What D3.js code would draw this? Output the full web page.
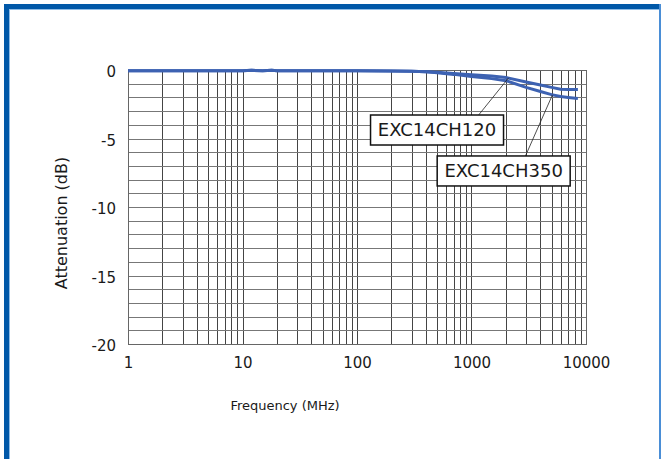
<!DOCTYPE html>
<html>
<head>
<meta charset="utf-8">
<script src="https://cdn.jsdelivr.net/npm/d3@7"></script>
<style>
  body { margin: 0; background: #fff; }
  text { font-family: "DejaVu Sans", Verdana, sans-serif; fill: #1a1a1a; }
</style>
</head>
<body>
<div id="chart"></div>
<script>
// frequency points (MHz) and attenuation (dB)
const freq = [1, 5, 10, 12, 15, 18, 20, 30, 50, 100, 200, 300, 400, 500, 700, 1000, 1500, 2000, 3000, 4000, 5000, 6000, 7000, 8500];
const att120 = [-0.05, -0.05, -0.05, -0.02, -0.06, -0.02, -0.05, -0.05, -0.05, -0.05, -0.07, -0.1, -0.12, -0.17, -0.25, -0.34, -0.44, -0.55, -0.87, -1.1, -1.27, -1.4, -1.42, -1.42];
const att350 = [-0.05, -0.05, -0.05, -0.02, -0.06, -0.02, -0.05, -0.05, -0.05, -0.05, -0.07, -0.1, -0.13, -0.2, -0.32, -0.48, -0.63, -0.78, -1.27, -1.57, -1.8, -1.93, -2.0, -2.08];
const seriesNames = ["EXC14CH120", "EXC14CH350"];
const xTicks = [1, 10, 100, 1000, 10000];
const yTicks = [0, -5, -10, -15, -20];
// label boxes: centre (freq, dB), leader from (freq, dB) to curve point (freq, dB)
const labelPos = [[500, -4.38], [1910, -7.37]];
const leaderFrom = [[1156, -3.28], [2958, -6.28]];
const leaderTo = [[2110, -0.57], [5090, -1.82]];

const W = 661, H = 459;
const svg = d3.select('#chart').append('svg')
  .attr('width', W).attr('height', H);

// frame
svg.append('rect').attr('x', 4).attr('y', 4).attr('width', 5).attr('height', H).attr('fill', '#0058a8');
svg.append('rect').attr('x', 4).attr('y', 4).attr('width', 656).attr('height', 5).attr('fill', '#0058a8');
svg.append('rect').attr('x', 9).attr('y', 9).attr('width', 1).attr('height', H).attr('fill', '#8fbce6');
svg.append('rect').attr('x', 9).attr('y', 9).attr('width', 651).attr('height', 1).attr('fill', '#8fbce6');
svg.append('rect').attr('x', 659).attr('y', 4).attr('width', 2).attr('height', H).attr('fill', '#4a8ed6');

const pLeft = 128, pRight = 586, pTop = 70, pBottom = 344;

const x = d3.scaleLog().domain([1, 10000]).range([pLeft, pRight]);
const y = d3.scaleLinear().domain([-20, 0]).range([pBottom, pTop]);

// grid
const minor = [];
for (let d = 1; d < 10000; d *= 10) {
  for (let k = 1; k <= 9; k++) minor.push(d * k);
}
minor.push(10000);
const grid = svg.append('g').attr('shape-rendering', 'crispEdges');
grid.selectAll('.vg').data(minor).enter().append('line')
  .attr('x1', d => Math.round(x(d)) + 0.5).attr('x2', d => Math.round(x(d)) + 0.5)
  .attr('y1', pTop).attr('y2', pBottom)
  .attr('stroke', '#444').attr('stroke-width', 1);
grid.selectAll('.hg').data(d3.range(0, -21, -1)).enter().append('line')
  .attr('x1', pLeft).attr('x2', pRight)
  .attr('y1', d => Math.round(y(d)) + 0.5).attr('y2', d => Math.round(y(d)) + 0.5)
  .attr('stroke', '#777').attr('stroke-width', 1);
grid.append('rect').attr('x', pLeft + 0.5).attr('y', pTop + 0.5)
  .attr('width', pRight - pLeft).attr('height', pBottom - pTop)
  .attr('fill', 'none').attr('stroke', '#666');

// axes (labels only)
const xAxis = d3.axisBottom(x).tickValues(xTicks).tickSize(0).tickPadding(13).tickFormat(d => String(d));
const gx = svg.append('g').attr('transform', `translate(0,${pBottom})`).call(xAxis);
gx.select('.domain').remove();
gx.selectAll('text').attr('font-size', 15).attr('font-family', '"DejaVu Sans", sans-serif').attr('fill', '#1a1a1a');

const yAxis = d3.axisLeft(y).tickValues(yTicks).tickSize(0).tickPadding(12).tickFormat(d => String(d));
const gy = svg.append('g').attr('transform', `translate(${pLeft},0)`).call(yAxis);
gy.select('.domain').remove();
gy.selectAll('text').attr('font-size', 15).attr('font-family', '"DejaVu Sans", sans-serif').attr('fill', '#1a1a1a').attr('dy', '0.45em');

// titles
svg.append('text')
  .attr('transform', 'translate(61,223) rotate(-90)')
  .attr('text-anchor', 'middle').attr('dy', '0.35em')
  .attr('font-size', 16)
  .text('Attenuation (dB)');
svg.append('text')
  .attr('x', 285).attr('y', 405)
  .attr('text-anchor', 'middle').attr('dy', '0.35em')
  .attr('font-size', 13)
  .text('Frequency (MHz)');

// curves
const line = d3.line().x(d => x(d[0])).y(d => y(d[1]));
[att120, att350].forEach(vals => {
  svg.append('path')
    .datum(freq.map((f, i) => [f, vals[i]]))
    .attr('d', line)
    .attr('fill', 'none')
    .attr('stroke', '#3d62b2')
    .attr('stroke-width', 3);
});

// leader lines and label boxes
seriesNames.forEach((name, i) => {
  svg.append('line')
    .attr('x1', x(leaderFrom[i][0])).attr('y1', y(leaderFrom[i][1]))
    .attr('x2', x(leaderTo[i][0])).attr('y2', y(leaderTo[i][1]))
    .attr('stroke', '#222').attr('stroke-width', 0.8);
  const cx = x(labelPos[i][0]), cy = y(labelPos[i][1]);
  const bw = 133, bh = 30;
  svg.append('rect')
    .attr('x', cx - bw / 2).attr('y', cy - bh / 2)
    .attr('width', bw).attr('height', bh)
    .attr('fill', '#fff').attr('stroke', '#111').attr('stroke-width', 1.5);
  svg.append('text')
    .attr('x', cx).attr('y', cy).attr('dy', '0.36em')
    .attr('text-anchor', 'middle')
    .attr('font-size', 18)
    .text(name);
});
</script>
</body>
</html>
